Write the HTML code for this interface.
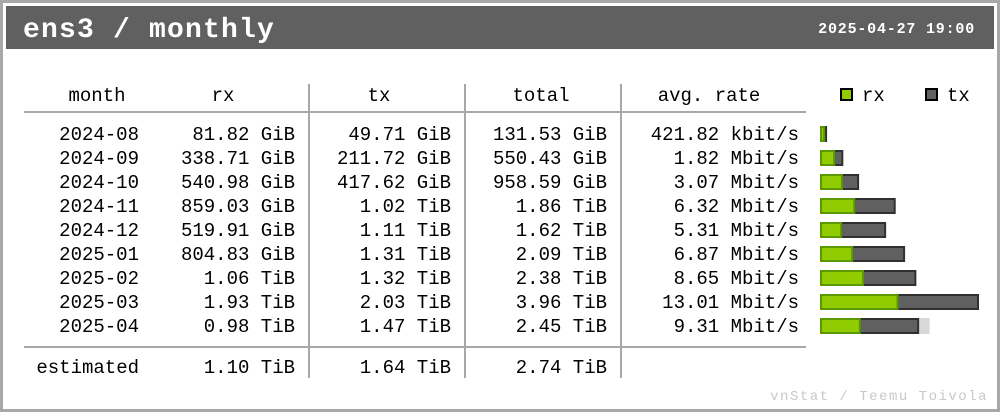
<!DOCTYPE html>
<html><head><meta charset="utf-8"><style>
html,body{margin:0;padding:0;background:#fff}
svg{display:block}
text{font-family:"Liberation Mono","DejaVu Sans Mono",monospace;fill:#000}
</style></head><body>
<svg id="chart" width="1000" height="412" viewBox="0 0 1000 412" xmlns="http://www.w3.org/2000/svg">
<rect x="1.5" y="1.5" width="997" height="409" fill="#fff" stroke="#a8a8a8" stroke-width="3"/>
<rect x="6" y="6" width="988" height="43" fill="#606060"/>
<text x="23" y="37" font-size="28" font-weight="bold" letter-spacing="1.2" style="fill:#fff">ens3 / monthly</text>
<text x="975" y="33" font-size="15" font-weight="bold" text-anchor="end" letter-spacing="0.8" style="fill:#fff">2025-04-27 19:00</text>
<g id="grid" stroke="#a8a8a8" stroke-width="2">
<line x1="24" y1="112" x2="806" y2="112"/>
<line x1="24" y1="347" x2="806" y2="347"/>
<line x1="309" y1="84" x2="309" y2="378"/>
<line x1="465" y1="84" x2="465" y2="378"/>
<line x1="621" y1="84" x2="621" y2="378"/>
</g>
<g font-size="19">
<text x="97" y="101" text-anchor="middle">month</text>
<text x="223" y="101" text-anchor="middle">rx</text>
<text x="379" y="101" text-anchor="middle">tx</text>
<text x="541" y="101" text-anchor="middle">total</text>
<text x="709" y="101" text-anchor="middle">avg. rate</text>
</g>
<g>
<rect x="841" y="89" width="11" height="11" fill="#90cc00" stroke="#000" stroke-width="2"/>
<text x="862" y="101" font-size="19">rx</text>
<rect x="926" y="89" width="11" height="11" fill="#606060" stroke="#000" stroke-width="2"/>
<text x="947" y="101" font-size="19">tx</text>
</g>
<g id="rows"></g>
<g font-size="19">
<text x="139" y="373" text-anchor="end">estimated</text>
<text x="295" y="373" text-anchor="end">1.10 TiB</text>
<text x="451" y="373" text-anchor="end">1.64 TiB</text>
<text x="607" y="373" text-anchor="end">2.74 TiB</text>
</g>
<text x="988" y="400" font-size="14" text-anchor="end" letter-spacing="1.5" style="fill:#c8c8c8">vnStat / Teemu Toivola</text>
</svg>
<script>
const months = ["2024-08","2024-09","2024-10","2024-11","2024-12","2025-01","2025-02","2025-03","2025-04"];
const rxLabels = ["81.82 GiB","338.71 GiB","540.98 GiB","859.03 GiB","519.91 GiB","804.83 GiB","1.06 TiB","1.93 TiB","0.98 TiB"];
const txLabels = ["49.71 GiB","211.72 GiB","417.62 GiB","1.02 TiB","1.11 TiB","1.31 TiB","1.32 TiB","2.03 TiB","1.47 TiB"];
const totalLabels = ["131.53 GiB","550.43 GiB","958.59 GiB","1.86 TiB","1.62 TiB","2.09 TiB","2.38 TiB","3.96 TiB","2.45 TiB"];
const rateLabels = ["421.82 kbit/s","1.82 Mbit/s","3.07 Mbit/s","6.32 Mbit/s","5.31 Mbit/s","6.87 Mbit/s","8.65 Mbit/s","13.01 Mbit/s","9.31 Mbit/s"];
const rxTiB = [0.0799,0.3308,0.5283,0.8389,0.5077,0.7860,1.06,1.93,0.98];
const txTiB = [0.0485,0.2068,0.4078,1.02,1.11,1.31,1.32,2.03,1.47];
const estimatedTotalTiB = 2.74;

const NS = "http://www.w3.org/2000/svg";
const rows = document.getElementById("rows");
const maxTotal = Math.max(...rxTiB.map((v,i)=>v+txTiB[i]), estimatedTotalTiB);
const x0 = 821, barMax = 157;
function xs(v){ return v / maxTotal * barMax; }
function ys(i){ return 133 + i*24; }
function mk(tag, attrs){ const e=document.createElementNS(NS,tag); for(const k in attrs) e.setAttribute(k,attrs[k]); return e; }

months.forEach((m,i)=>{
  const y = ys(i);
  const g = mk("g",{});
  
  
  const cols = [[m,139],[rxLabels[i],295],[txLabels[i],451],[totalLabels[i],607],[rateLabels[i],799]];
  cols.forEach(c=>{
    const t = mk("text",{x:c[1], y:y+7, "text-anchor":"end", "font-size":"19"});
    
    
    t.textContent = c[0];
    g.appendChild(t);
  });
  const top = y-6, h = 14;
  if (i === months.length-1) {
    const est = mk("rect",{x:x0-1, y:top-1, width:xs(estimatedTotalTiB)+1, height:h+2, fill:"#d8d8d8"});
    
    
    g.appendChild(est);
  }
  const rw = xs(rxTiB[i]), tw = xs(txTiB[i]);
  const tx = mk("rect",{x:x0+rw, y:top, width:Math.max(tw,1), height:h, fill:"#606060", stroke:"#303030", "stroke-width":"2"});
  
  
  g.appendChild(tx);
  const rx = mk("rect",{x:x0, y:top, width:Math.max(rw,1), height:h, fill:"#90cc00", stroke:"#5a9a00", "stroke-width":"2"});
  
  
  g.appendChild(rx);
  rows.appendChild(g);
});
</script>
</body></html>
